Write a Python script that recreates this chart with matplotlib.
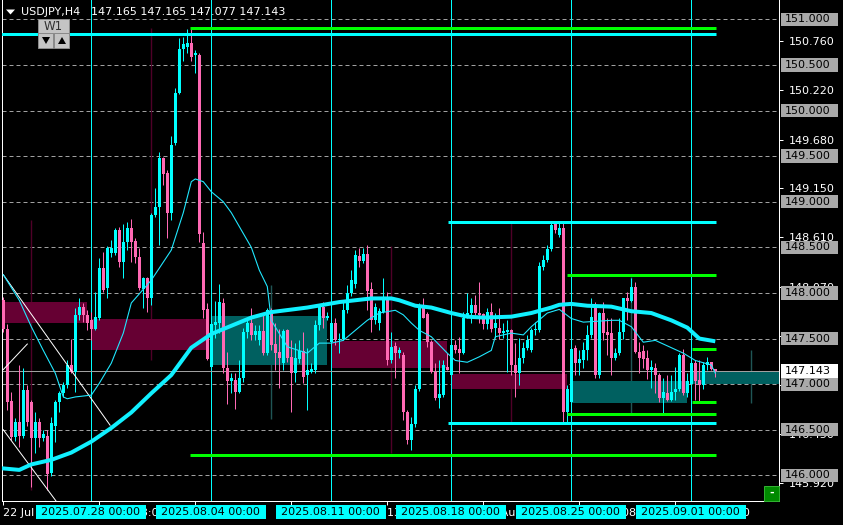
import numpy as np
import matplotlib.pyplot as plt
from matplotlib.patches import Rectangle, Polygon

# ---- USDJPY H4 bars (oldest first) ----
opens = [147.92, 147.61, 146.81, 146.42, 146.58, 146.43, 146.94, 146.80, 146.41, 146.59,
         146.41, 146.43, 146.03, 146.54, 146.80, 146.90, 146.99, 147.21, 147.13, 147.76,
         147.85, 147.76, 147.70, 147.61, 147.73, 148.27, 148.05, 148.44, 148.44, 148.69,
         148.34, 148.56, 148.71, 148.57, 148.39, 148.04, 148.16, 147.95, 148.86, 148.94,
         149.48, 149.31, 148.88, 149.64, 150.19, 150.68, 150.70, 150.74, 150.61, 150.61,
         148.55, 147.82, 147.19, 147.65, 147.67, 147.89, 147.18, 147.03, 147.05, 146.91,
         147.07, 147.57, 147.67, 147.54, 147.48, 147.58, 147.34, 147.81, 147.44, 147.35,
         147.23, 147.59, 147.30, 147.12, 147.28, 147.36, 147.10, 147.13, 147.15, 147.65,
         147.85, 147.73, 147.46, 147.67, 147.48, 147.50, 147.81, 148.00, 148.10, 148.40,
         148.35, 148.43, 148.04, 147.70, 147.67, 147.79, 147.95, 147.26, 147.42, 147.34,
         147.32, 146.70, 146.39, 146.56, 146.95, 147.85, 147.77, 147.46, 147.13, 146.85,
         146.88, 147.19, 147.10, 147.43, 147.39, 147.34, 147.73, 147.78, 147.87, 147.78,
         147.77, 147.66, 147.79, 147.62, 147.62, 147.56, 147.57, 147.59, 147.21, 147.12,
         147.29, 147.40, 147.37, 147.59, 147.59, 148.29, 148.36, 148.48, 148.76, 148.64,
         148.71, 146.70, 146.80, 147.40, 147.23, 147.27, 147.38, 147.54, 147.84, 147.10,
         147.78, 147.57, 147.56, 147.29, 147.34, 147.57, 147.94, 147.91, 148.07, 147.35,
         147.36, 147.29, 147.15, 147.18, 147.10, 146.85, 146.90, 146.83, 146.91, 146.95,
         147.32, 146.90, 147.00, 147.23, 147.05, 146.99, 147.21, 147.24, 147.165]
highs = [147.96, 147.66, 146.91, 146.63, 147.21, 147.18, 146.99, 146.83, 146.69, 146.63,
         146.50, 146.50, 146.64, 146.83, 146.93, 147.02, 147.26, 147.50, 147.84, 147.94,
         147.89, 147.81, 147.79, 148.01, 148.38, 148.45, 148.51, 148.58, 148.71, 148.72,
         148.76, 148.78, 148.81, 148.60, 148.49, 148.18, 148.18, 148.88, 149.15, 149.54,
         149.49, 149.35, 149.72, 150.25, 150.79, 150.81, 150.89, 150.91, 150.66, 150.63,
         148.67, 147.89, 147.90, 147.91, 148.10, 147.95, 147.35, 147.12, 147.12, 147.26,
         147.62, 147.73, 147.83, 147.65, 147.65, 147.78, 147.84, 147.84, 147.67, 147.61,
         147.60, 147.61, 147.48, 147.45, 147.48, 147.57, 147.40, 147.23, 147.70, 147.88,
         147.90, 147.79, 147.67, 147.72, 147.56, 147.90, 148.09, 148.25, 148.47, 148.49,
         148.49, 148.53, 148.12, 147.89, 147.83, 148.16, 148.01, 147.57, 147.46, 147.41,
         147.35, 146.72, 146.64, 146.99, 147.89, 147.95, 147.79, 147.48, 147.23, 147.27,
         147.26, 147.34, 147.48, 147.48, 147.52, 147.79, 148.00, 147.94, 147.98, 148.12,
         147.78, 147.84, 147.89, 147.78, 147.83, 147.67, 147.70, 147.61, 147.45, 147.51,
         147.46, 147.54, 147.62, 147.68, 148.34, 148.42, 148.53, 148.78, 148.78, 148.78,
         148.78, 146.99, 147.51, 147.43, 147.37, 147.46, 147.65, 147.94, 147.90, 147.79,
         147.90, 147.72, 147.72, 147.40, 147.72, 147.95, 148.01, 148.16, 148.12, 147.46,
         147.43, 147.37, 147.26, 147.23, 147.12, 147.07, 147.10, 147.10, 147.19, 147.34,
         147.39, 147.12, 147.24, 147.26, 147.26, 147.24, 147.30, 147.24, 147.165]
lows = [147.57, 146.72, 146.39, 146.38, 146.31, 146.41, 146.54, 145.87, 146.25, 146.31,
        146.38, 145.84, 145.99, 146.37, 146.69, 146.86, 146.96, 147.12, 146.91, 147.70,
        147.68, 147.59, 147.48, 147.59, 147.70, 148.01, 147.94, 148.39, 148.42, 148.28,
        148.16, 148.47, 148.34, 148.33, 148.03, 147.84, 147.79, 147.87, 148.83, 148.53,
        149.18, 148.60, 148.80, 149.62, 150.18, 150.54, 150.63, 150.54, 150.41, 148.56,
        147.73, 147.26, 147.18, 147.51, 147.56, 147.12, 146.78, 146.90, 146.73, 146.90,
        147.02, 147.51, 147.48, 147.48, 147.43, 147.32, 147.32, 147.37, 147.15, 146.96,
        147.15, 147.24, 146.69, 147.02, 147.23, 147.01, 146.72, 147.12, 147.12, 147.59,
        147.62, 147.70, 147.45, 147.43, 147.34, 147.48, 147.78, 147.97, 148.05, 148.28,
        148.33, 147.81, 147.57, 147.66, 147.59, 147.78, 147.21, 147.23, 147.07, 147.29,
        146.61, 146.34, 146.28, 146.53, 146.93, 147.72, 147.41, 147.12, 146.83, 146.74,
        146.86, 147.15, 147.07, 147.34, 147.12, 147.33, 147.72, 147.67, 147.76, 147.67,
        147.61, 147.61, 147.57, 147.51, 147.50, 147.51, 147.13, 147.10, 146.86, 146.99,
        147.23, 147.37, 147.35, 147.54, 147.57, 148.25, 148.34, 148.46, 148.66, 148.61,
        146.59, 146.56, 146.78, 147.10, 147.10, 147.18, 147.26, 147.51, 147.07, 147.07,
        147.48, 147.32, 147.10, 147.26, 147.32, 147.50, 147.70, 147.90, 147.34, 147.12,
        147.18, 147.06, 146.96, 146.90, 146.80, 146.68, 146.81, 146.81, 146.83, 146.93,
        146.88, 146.86, 146.88, 146.83, 146.81, 146.95, 147.15, 147.15, 147.077]
closes = [147.61, 146.80, 146.42, 146.59, 146.43, 146.94, 146.58, 146.41, 146.59, 146.41,
          146.45, 146.01, 146.57, 146.80, 146.90, 146.99, 147.21, 147.13, 147.76, 147.85,
          147.76, 147.67, 147.61, 147.74, 148.27, 148.03, 148.49, 148.49, 148.69, 148.34,
          148.56, 148.71, 148.56, 148.39, 148.05, 148.16, 147.95, 148.86, 148.94, 149.48,
          149.30, 148.88, 149.62, 150.19, 150.68, 150.73, 150.74, 150.59, 150.63, 148.65,
          147.81, 147.28, 147.66, 147.68, 147.90, 147.18, 147.04, 147.07, 146.91, 147.07,
          147.57, 147.67, 147.54, 147.58, 147.58, 147.34, 147.81, 147.43, 147.34, 147.29,
          147.58, 147.29, 147.12, 147.29, 147.36, 147.08, 147.15, 147.17, 147.65, 147.85,
          147.73, 147.74, 147.67, 147.48, 147.50, 147.81, 148.00, 148.14, 148.42, 148.35,
          148.43, 148.02, 147.70, 147.85, 147.80, 147.95, 147.26, 147.41, 147.34, 147.38,
          146.69, 146.39, 146.56, 146.95, 147.85, 147.73, 147.46, 147.13, 146.85, 146.89,
          147.21, 147.16, 147.43, 147.37, 147.34, 147.73, 147.78, 147.87, 147.78, 147.76,
          147.66, 147.79, 147.61, 147.67, 147.56, 147.58, 147.59, 147.21, 147.12, 147.29,
          147.40, 147.48, 147.59, 147.61, 148.30, 148.36, 148.48, 148.75, 148.69, 148.71,
          146.70, 146.95, 147.39, 147.23, 147.28, 147.38, 147.54, 147.74, 147.10, 147.78,
          147.56, 147.54, 147.29, 147.34, 147.57, 147.94, 147.91, 148.07, 147.35, 147.29,
          147.28, 147.15, 147.19, 147.10, 146.85, 146.91, 146.83, 146.91, 146.95, 147.32,
          146.90, 147.03, 147.23, 147.03, 146.99, 147.21, 147.24, 147.17, 147.143]

# moving averages (bar index, price)
ma_slow_x = [-1, 4, 7, 12, 17, 22, 27, 32, 37, 42, 47, 52, 57, 62, 67, 76, 84, 92, 97, 99,
             103, 107, 112, 116, 120, 127, 132, 137, 139, 142, 146, 152, 157, 162, 167, 171, 174, 178]
ma_slow = [146.08, 146.06, 146.12, 146.17, 146.25, 146.37, 146.52, 146.69, 146.90, 147.10,
           147.40, 147.55, 147.64, 147.73, 147.79, 147.84, 147.90, 147.94, 147.94, 147.92,
           147.86, 147.84, 147.78, 147.74, 147.73, 147.74, 147.78, 147.84, 147.87, 147.88,
           147.86, 147.85, 147.80, 147.78, 147.70, 147.62, 147.50, 147.47]
ma_fast_x = [0, 4, 7, 10, 13, 15, 16, 18, 22, 24, 27, 30, 32, 37, 42, 45, 47, 48, 50, 52,
             55, 57, 62, 64, 66, 67, 71, 76, 79, 82, 85, 88, 91, 94, 98, 100, 102, 104, 107,
             111, 113, 116, 119, 122, 123, 127, 130, 132, 136, 139, 142, 145, 152, 154, 157,
             160, 163, 167, 170, 173, 177, 178]
ma_fast = [148.20, 147.92, 147.63, 147.37, 147.12, 146.86, 146.84, 146.86, 146.88, 147.01,
           147.23, 147.56, 147.89, 148.14, 148.47, 148.88, 149.22, 149.25, 149.22, 149.11,
           149.00, 148.88, 148.50, 148.25, 148.07, 147.70, 147.41, 147.34, 147.45, 147.45,
           147.48, 147.59, 147.70, 147.78, 147.81, 147.76, 147.67, 147.59, 147.52, 147.34,
           147.26, 147.24, 147.30, 147.37, 147.52, 147.56, 147.54, 147.63, 147.78, 147.82,
           147.72, 147.68, 147.70, 147.70, 147.63, 147.46, 147.48, 147.40, 147.34, 147.26,
           147.21, 147.12]

# weekly candles overlaid (first bar of each week)
week_start = [-8, 22, 52, 82, 112, 142, 172]
week_open = [147.90, 147.71, 147.21, 147.47, 147.11, 146.79, 147.00]
week_close = [147.67, 147.38, 147.75, 147.18, 146.95, 147.03, 147.14]
week_high = [148.80, 150.91, 148.09, 148.51, 148.77, 148.17, 147.37]
week_low = [145.84, 147.26, 146.62, 146.24, 146.58, 146.66, 146.79]
week_labels = ['', '2025.07.28 00:00', '2025.08.04 00:00', '2025.08.11 00:00',
               '2025.08.18 00:00', '2025.08.25 00:00', '2025.09.01 00:00']

# horizontal levels (price, first bar, colour)
lvl_price = [150.84, 150.90, 146.22, 148.78, 146.57, 148.20, 146.67, 147.39, 146.80]
lvl_from = [-1, 46.7, 46.7, 111.2, 111.2, 141, 141, 172.2, 172.2]
lvl_kind = ['c', 'g', 'g', 'c', 'c', 'g', 'g', 'g', 'g']

# trendlines (bar, price) pairs
trend_lines = [((0, 148.20), (26.7, 146.55)),
               ((0, 147.16), (6, 147.44)),
               ((0, 146.50), (13.5, 145.70))]

round_levels = [151.0, 150.5, 150.0, 149.5, 149.0, 148.5, 148.0, 147.5, 147.0, 146.5, 146.0]
scale_ticks = [150.76, 150.22, 149.68, 149.15, 148.61, 148.07, 147.53, 146.99, 146.45, 145.92]
time_ticks = [0, 24, 48, 72, 96, 120, 144, 168]
time_labels = ['22 Jul 2025', '28 Jul 08:00', '1 Aug 08:00', '7 Aug 08:00',
               '13 Aug 08:00', '19 Aug 08:00', '25 Aug 08:00', '29 Aug 08:00']
bid = 147.143

BULL = '#00ffff'
BEAR = '#ff69b4'
GREEN = '#00ff00'
PX = 0.72  # one pixel in points

W, H = 843, 525
fig = plt.figure(figsize=(W / 100, H / 100), dpi=100, facecolor='black')
ax = fig.add_axes([2 / W, 24 / H, 777 / W, 501 / H], facecolor='black')
ax.set_xlim(-0.325, 193.925)
ax.set_ylim(145.719, 151.212)

for lv in round_levels:
    ax.axhline(lv, color='#a0a0a0', lw=PX, ls=(0, (4, 3)), zorder=1)
for s in week_start[1:]:
    ax.axvline(s, color=BULL, lw=PX, zorder=1.2)

# weekly bodies + wicks
for s, o, c, hi, lo in zip(week_start, week_open, week_close, week_high, week_low):
    bull = c >= o
    ax.vlines(s + 15, lo, hi, color='#1f5656' if bull else '#4f0028', lw=1.4 * PX, zorder=1.4)
    ax.add_patch(Rectangle((s + 0.2, min(o, c)), 28.7, abs(c - o),
                           fc='#006060' if bull else '#660033', ec='none', zorder=1.6))

ax.axhline(bid, color='#a0a0a0', lw=PX, zorder=1.8)

# candles
o, h, l, c = map(np.array, (opens, highs, lows, closes))
idx = np.arange(len(o))
cols = np.where(c >= o, BULL, BEAR)
ax.vlines(idx, l, h, colors=cols, lw=PX, zorder=3)
ax.bar(idx, np.maximum(np.abs(c - o), 0.012), bottom=np.minimum(o, c), width=0.75,
       color=cols, lw=0, zorder=3)

for (x0, y0), (x1, y1) in trend_lines:
    ax.plot([x0, x1], [y0, y1], color='white', lw=PX, zorder=3.5)

ax.plot(ma_slow_x, ma_slow, color='#10f0ff', lw=4 * PX, zorder=4, solid_capstyle='butt')
ax.plot(ma_fast_x, ma_fast, color='#20e8ff', lw=1.1 * PX, zorder=4)

for p, x0, k in zip(lvl_price, lvl_from, lvl_kind):
    ax.hlines(p, x0, 178.2, color=BULL if k == 'c' else GREEN, lw=3 * PX, zorder=4.5)

# axes frame / scale
for side in ['left', 'right', 'bottom']:
    ax.spines[side].set_color('white')
    ax.spines[side].set_linewidth(PX)
ax.spines['top'].set_visible(False)
ax.yaxis.tick_right()
ax.set_yticks(scale_ticks)
ax.set_yticklabels([f'{v:.3f}' for v in scale_ticks])
ax.tick_params(axis='y', colors='white', length=3, width=PX, pad=4, labelsize=8)
ax.set_xticks(time_ticks)
ax.set_xticklabels(time_labels, ha='left')
ax.tick_params(axis='x', colors='white', length=3, width=PX, pad=2, labelsize=8)

ytr = ax.get_yaxis_transform()
for lv in round_levels:
    ax.add_patch(Rectangle((1 + 2 / 777, lv - 0.073), 57 / 777, 0.146, transform=ytr,
                           fc='#a9a9a9', ec='none', zorder=6, clip_on=False))
    ax.text(1 + 6 / 777, lv, f'{lv:.3f}', transform=ytr, va='center', ha='left',
            fontsize=8, color='black', zorder=7, clip_on=False)
ax.add_patch(Rectangle((1 + 2 / 777, bid - 0.078), 57 / 777, 0.156, transform=ytr,
                       fc='white', ec='none', zorder=6, clip_on=False))
ax.text(1 + 6 / 777, bid, f'{bid:.3f}', transform=ytr, va='center', ha='left',
        fontsize=8, color='black', zorder=7, clip_on=False)

xtr = ax.get_xaxis_transform()
for s, lab in zip(week_start[1:], week_labels[1:]):
    ax.add_patch(Rectangle((s - 13.9, -0.036), 27.5, 0.028, transform=xtr,
                           fc=BULL, ec='none', zorder=6, clip_on=False))
    ax.text(s - 0.3, -0.0225, lab, transform=xtr, ha='center', va='center',
            fontsize=8, color='black', zorder=7, clip_on=False)

# overlay in pixel coordinates for the chart widgets
ov = fig.add_axes([0, 0, 1, 1], zorder=5)
ov.set_xlim(0, W)
ov.set_ylim(H, 0)
ov.axis('off')
ov.add_patch(Polygon([(6, 9.5), (15, 9.5), (10.5, 14.5)], closed=True, fc='white', ec='none'))
ov.text(21, 12, 'USDJPY,H4', color='white', fontsize=8, va='center', ha='left')
ov.text(91, 12, '147.165 147.165 147.077 147.143', color='white', fontsize=8,
        va='center', ha='left')
ov.add_patch(Rectangle((38, 18.5), 31, 14.5, fc='#c4c4c4', ec='#8a8a8a', lw=PX))
ov.text(53.5, 26, 'W1', color='#303030', fontsize=8.5, ha='center', va='center')
for bx, pts in [(38, [(42, 37), (50, 37), (46, 44)]), (54, [(58, 44), (66, 44), (62, 37)])]:
    ov.add_patch(Rectangle((bx, 33), 15, 14.5, fc='#c4c4c4', ec='#8a8a8a', lw=PX))
    ov.add_patch(Polygon(pts, closed=True, fc='black', ec='none'))
ov.add_patch(Rectangle((764, 486), 14.5, 14.5, fc='#008a00', ec='#30b030', lw=PX))
ov.text(771.3, 492.5, '-', color='white', fontsize=8, ha='center', va='center',
        fontweight='bold')

fig.savefig('out.png', dpi=100, facecolor='black')
